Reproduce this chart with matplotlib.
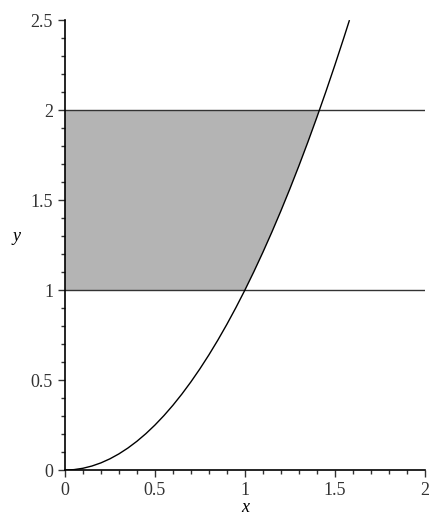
import numpy as np
from matplotlib import pyplot as plt

# curve points
curve_x = [0, 0.05, 0.1, 0.15, 0.2, 0.25, 0.3, 0.35, 0.4, 0.45, 0.5, 0.55, 0.6,
           0.65, 0.7, 0.75, 0.8, 0.85, 0.9, 0.95, 1.0, 1.05, 1.1, 1.15, 1.2, 1.25,
           1.3, 1.35, 1.4, 1.45, 1.5, 1.55, 1.58]
curve_y = [0, 0.0025, 0.01, 0.0225, 0.04, 0.0625, 0.09, 0.1225, 0.16, 0.2025,
           0.25, 0.3025, 0.36, 0.4225, 0.49, 0.5625, 0.64, 0.7225, 0.81, 0.9025,
           1.0, 1.1025, 1.21, 1.3225, 1.44, 1.5625, 1.69, 1.8225, 1.96, 2.1025,
           2.25, 2.4025, 2.4964]
levels = [1, 2]
xticks = [0, 0.5, 1, 1.5, 2]
yticks = [0, 0.5, 1, 1.5, 2, 2.5]

plt.rcParams['font.family'] = 'serif'
plt.rcParams['font.serif'] = ['Liberation Serif', 'DejaVu Serif']

fig = plt.figure(figsize=(4.3, 5.16), dpi=100)
ax = fig.add_axes([0.151, 0.089, 0.837, 0.872])

# shaded band between the two levels, left of the curve
cx = np.array(curve_x)
cy = np.array(curve_y)
lo, hi = levels
x_lo = np.interp(lo, cy, cx)
x_hi = np.interp(hi, cy, cx)
inside = (cy > lo) & (cy < hi)
px = [0, x_lo] + list(cx[inside]) + [x_hi, 0]
py = [lo, lo] + list(cy[inside]) + [hi, hi]
ax.fill(px, py, color='#b4b4b4', lw=0, zorder=1)

for lv in levels:
    ax.plot([0, 2], [lv, lv], color='#333333', lw=1, zorder=2)
ax.plot(curve_x, curve_y, color='black', lw=1, zorder=3)

ax.set_xlim(0, 2)
ax.set_ylim(0, 2.5)
ax.spines['top'].set_visible(False)
ax.spines['right'].set_visible(False)
ax.spines['left'].set_linewidth(1.2)
ax.spines['bottom'].set_linewidth(1.2)
ax.set_xticks(xticks)
ax.set_yticks(yticks)
ax.set_xticklabels(['0', '0.5', '1', '1.5', '2'])
ax.set_yticklabels(['0', '0.5', '1', '1.5', '2', '2.5'])
ax.set_xticks(np.arange(0, 2.01, 0.1), minor=True)
ax.set_yticks(np.arange(0, 2.51, 0.1), minor=True)
ax.tick_params(which='major', length=5, width=1, labelsize=13, colors='#333333')
ax.tick_params(which='minor', length=3, width=1, colors='#333333')
ax.set_xlabel('x', fontstyle='italic', fontsize=13, labelpad=0)
ax.set_ylabel('y', fontstyle='italic', fontsize=13, rotation=0, labelpad=10)

fig.savefig('out.png', dpi=100)
